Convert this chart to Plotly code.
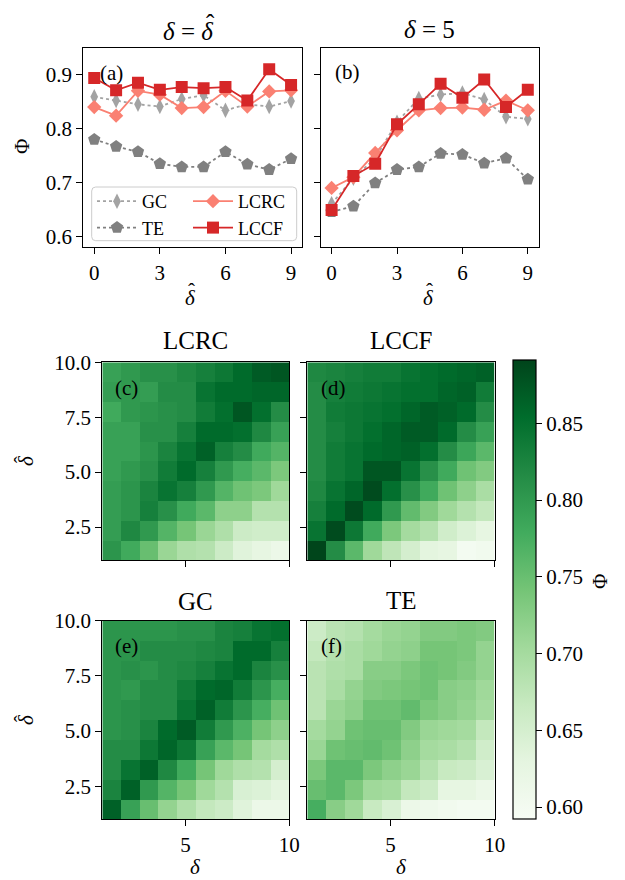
import plotly.graph_objects as go

W, H = 625, 880
FONT = "Liberation Serif"

# ---------------- data ----------------
delta_hat = [0, 1, 2, 3, 4, 5, 6, 7, 8, 9]

# panel (a): delta = delta_hat
a_GC = [0.859, 0.852, 0.845, 0.841, 0.855, 0.862, 0.834, 0.845, 0.841, 0.851]
a_TE = [0.780, 0.767, 0.757, 0.735, 0.729, 0.729, 0.757, 0.734, 0.724, 0.744]
a_LCRC = [0.840, 0.824, 0.870, 0.863, 0.838, 0.840, 0.870, 0.841, 0.869, 0.871]
a_LCCF = [0.894, 0.871, 0.885, 0.872, 0.877, 0.875, 0.877, 0.852, 0.910, 0.881]

# panel (b): delta = 5
b_GC = [0.661, 0.708, 0.745, 0.812, 0.856, 0.863, 0.866, 0.854, 0.822, 0.818]
b_TE = [0.646, 0.656, 0.699, 0.724, 0.729, 0.754, 0.752, 0.736, 0.745, 0.706]
b_LCRC = [0.690, 0.710, 0.755, 0.797, 0.834, 0.838, 0.839, 0.835, 0.852, 0.834]
b_LCCF = [0.649, 0.712, 0.735, 0.808, 0.845, 0.883, 0.857, 0.891, 0.840, 0.872]

# heatmaps, rows listed from bottom (low delta_hat) to top (high delta_hat)
hm_LCRC = [
    [0.805, 0.780, 0.750, 0.710, 0.690, 0.685, 0.660, 0.635, 0.625, 0.615],
    [0.795, 0.820, 0.800, 0.765, 0.740, 0.710, 0.690, 0.660, 0.655, 0.655],
    [0.795, 0.805, 0.830, 0.810, 0.780, 0.760, 0.720, 0.720, 0.685, 0.685],
    [0.795, 0.805, 0.825, 0.845, 0.830, 0.800, 0.765, 0.745, 0.735, 0.705],
    [0.790, 0.800, 0.810, 0.835, 0.855, 0.830, 0.800, 0.775, 0.760, 0.735],
    [0.790, 0.790, 0.805, 0.825, 0.845, 0.865, 0.830, 0.815, 0.780, 0.765],
    [0.790, 0.790, 0.810, 0.810, 0.830, 0.855, 0.855, 0.850, 0.820, 0.790],
    [0.780, 0.800, 0.805, 0.810, 0.815, 0.835, 0.850, 0.875, 0.850, 0.815],
    [0.795, 0.800, 0.795, 0.815, 0.815, 0.845, 0.855, 0.855, 0.860, 0.860],
    [0.790, 0.800, 0.810, 0.810, 0.820, 0.830, 0.840, 0.855, 0.870, 0.875],
]
hm_LCCF = [
    [0.890, 0.815, 0.760, 0.705, 0.675, 0.650, 0.630, 0.625, 0.600, 0.605],
    [0.845, 0.885, 0.840, 0.780, 0.735, 0.700, 0.685, 0.655, 0.640, 0.625],
    [0.830, 0.855, 0.885, 0.855, 0.800, 0.755, 0.730, 0.705, 0.685, 0.670],
    [0.820, 0.845, 0.860, 0.885, 0.850, 0.810, 0.780, 0.745, 0.720, 0.695],
    [0.815, 0.835, 0.845, 0.875, 0.875, 0.845, 0.810, 0.780, 0.745, 0.730],
    [0.815, 0.835, 0.845, 0.855, 0.860, 0.865, 0.850, 0.815, 0.785, 0.760],
    [0.815, 0.830, 0.840, 0.850, 0.860, 0.870, 0.870, 0.855, 0.815, 0.790],
    [0.815, 0.835, 0.840, 0.845, 0.850, 0.860, 0.870, 0.865, 0.855, 0.815],
    [0.815, 0.830, 0.835, 0.840, 0.845, 0.850, 0.850, 0.860, 0.865, 0.835],
    [0.820, 0.825, 0.830, 0.835, 0.835, 0.845, 0.850, 0.855, 0.860, 0.865],
]
hm_GC = [
    [0.865, 0.790, 0.750, 0.715, 0.690, 0.670, 0.660, 0.635, 0.615, 0.615],
    [0.825, 0.865, 0.800, 0.765, 0.740, 0.705, 0.685, 0.645, 0.640, 0.630],
    [0.815, 0.845, 0.865, 0.820, 0.780, 0.740, 0.705, 0.690, 0.685, 0.650],
    [0.815, 0.815, 0.840, 0.860, 0.840, 0.790, 0.760, 0.740, 0.700, 0.690],
    [0.805, 0.810, 0.825, 0.855, 0.870, 0.835, 0.800, 0.770, 0.740, 0.720],
    [0.805, 0.810, 0.815, 0.815, 0.845, 0.865, 0.835, 0.805, 0.775, 0.745],
    [0.805, 0.800, 0.815, 0.815, 0.835, 0.855, 0.860, 0.835, 0.805, 0.775],
    [0.805, 0.810, 0.805, 0.815, 0.820, 0.830, 0.845, 0.855, 0.825, 0.810],
    [0.805, 0.805, 0.815, 0.815, 0.815, 0.820, 0.825, 0.855, 0.855, 0.830],
    [0.805, 0.805, 0.805, 0.805, 0.810, 0.810, 0.825, 0.830, 0.845, 0.850],
]
hm_TE = [
    [0.775, 0.725, 0.705, 0.665, 0.645, 0.615, 0.610, 0.605, 0.600, 0.600],
    [0.750, 0.760, 0.735, 0.705, 0.700, 0.670, 0.660, 0.625, 0.625, 0.615],
    [0.735, 0.760, 0.760, 0.735, 0.720, 0.710, 0.685, 0.665, 0.660, 0.645],
    [0.710, 0.745, 0.750, 0.755, 0.745, 0.720, 0.700, 0.695, 0.685, 0.655],
    [0.700, 0.715, 0.745, 0.750, 0.750, 0.730, 0.710, 0.705, 0.700, 0.670],
    [0.680, 0.710, 0.720, 0.745, 0.745, 0.755, 0.735, 0.725, 0.715, 0.700],
    [0.680, 0.695, 0.715, 0.730, 0.735, 0.740, 0.745, 0.725, 0.720, 0.705],
    [0.680, 0.690, 0.695, 0.725, 0.725, 0.735, 0.745, 0.740, 0.730, 0.715],
    [0.670, 0.685, 0.695, 0.705, 0.715, 0.720, 0.740, 0.740, 0.735, 0.715],
    [0.660, 0.680, 0.685, 0.700, 0.710, 0.715, 0.730, 0.730, 0.735, 0.730],
]

line_ticks = [0, 3, 6, 9]
phi_ticks = [0.6, 0.7, 0.8, 0.9]
hm_xticks = [5, 10]
hm_yticks = [2.5, 5.0, 7.5, 10.0]
cb_ticks = [0.60, 0.65, 0.70, 0.75, 0.80, 0.85]

# ---------------- helpers ----------------
def px(x):
    return x / W

def py(y):
    return 1 - y / H

GREENS = [
    [0.0, "#f7fcf5"], [0.125, "#e5f5e0"], [0.25, "#c7e9c0"], [0.375, "#a1d99b"],
    [0.5, "#74c476"], [0.625, "#41ab5d"], [0.75, "#238b45"], [0.875, "#006d2c"],
    [1.0, "#00441b"],
]

C_GC, C_TE, C_LCRC, C_LCCF = "#a3a3a3", "#808080", "#fa8072", "#d62728"

fig = go.Figure()

series = [
    ("GC", C_GC, "dot", "diamond-tall", 11, "legend"),
    ("TE", C_TE, "dot", "pentagon", 13, "legend"),
    ("LCRC", C_LCRC, "solid", "diamond", 11, "legend2"),
    ("LCCF", C_LCCF, "solid", "square", 12, "legend2"),
]
a_vals = {"GC": a_GC, "TE": a_TE, "LCRC": a_LCRC, "LCCF": a_LCCF}
b_vals = {"GC": b_GC, "TE": b_TE, "LCRC": b_LCRC, "LCCF": b_LCCF}

for name, col, dash, sym, size, leg in series:
    fig.add_trace(go.Scatter(
        x=delta_hat, y=a_vals[name], mode="lines+markers", name=name,
        line=dict(color=col, width=1.8, dash=dash),
        marker=dict(symbol=sym, size=size, color=col),
        xaxis="x", yaxis="y", legend=leg, showlegend=True))
for name, col, dash, sym, size, leg in series:
    fig.add_trace(go.Scatter(
        x=delta_hat, y=b_vals[name], mode="lines+markers", name=name,
        line=dict(color=col, width=1.8, dash=dash),
        marker=dict(symbol=sym, size=size, color=col),
        xaxis="x2", yaxis="y2", showlegend=False))

for z, xa, ya in [(hm_LCRC, "x3", "y3"), (hm_LCCF, "x4", "y4"),
                  (hm_GC, "x5", "y5"), (hm_TE, "x6", "y6")]:
    fig.add_trace(go.Heatmap(z=z, x0=1.45, dx=0.9, y0=1.45, dy=0.9,
                             coloraxis="coloraxis", xaxis=xa, yaxis=ya,
                             hoverinfo="skip"))

tickfont = dict(family=FONT, size=21, color="black")

def axis_common(**kw):
    d = dict(showline=True, linecolor="black", linewidth=1.2, mirror=True,
             ticks="outside", ticklen=6, tickwidth=1.2, tickcolor="black",
             showgrid=False, zeroline=False, tickfont=tickfont, automargin=False)
    d.update(kw)
    return d

# line panels
dom_top = [py(247.3), py(47.7)]
fig.update_layout(
    xaxis=axis_common(domain=[px(83.3), px(302)], range=[-0.5, 9.5],
                      tickvals=line_ticks, anchor="y"),
    yaxis=axis_common(domain=dom_top, range=[0.58, 0.95], tickvals=phi_ticks,
                      tickformat=".1f", anchor="x"),
    xaxis2=axis_common(domain=[px(320.7), px(538.7)], range=[-0.5, 9.5],
                       tickvals=line_ticks, anchor="y2"),
    yaxis2=axis_common(domain=dom_top, range=[0.58, 0.95], tickvals=phi_ticks,
                       showticklabels=False, anchor="x2"),
)

hm_dom_x_left = [px(102.3), px(289.3)]
hm_dom_x_right = [px(307.3), px(494.7)]
hm_dom_y_top = [py(560), py(362.3)]
hm_dom_y_bot = [py(819.3), py(620.7)]

def hx(dom, anchor, labels):
    return axis_common(domain=dom, range=[1, 10], tickvals=hm_xticks,
                       showticklabels=labels, anchor=anchor)

def hy(dom, anchor, labels):
    return axis_common(domain=dom, range=[1, 10], tickvals=hm_yticks,
                       tickformat=".1f", showticklabels=labels, anchor=anchor)

fig.update_layout(
    xaxis3=hx(hm_dom_x_left, "y3", False), yaxis3=hy(hm_dom_y_top, "x3", True),
    xaxis4=hx(hm_dom_x_right, "y4", False), yaxis4=hy(hm_dom_y_top, "x4", False),
    xaxis5=hx(hm_dom_x_left, "y5", True), yaxis5=hy(hm_dom_y_bot, "x5", True),
    xaxis6=hx(hm_dom_x_right, "y6", True), yaxis6=hy(hm_dom_y_bot, "x6", False),
)

fig.update_layout(
    coloraxis=dict(
        colorscale=GREENS, cmin=0.592, cmax=0.891,
        colorbar=dict(
            x=px(513.3), xanchor="left", y=py(819.3), yanchor="bottom",
            len=(819.3 - 360) / H, lenmode="fraction", thickness=23.4,
            thicknessmode="pixels", xpad=0, ypad=0, outlinecolor="black",
            outlinewidth=1.2, ticks="outside", ticklen=6, tickwidth=1.2,
            tickcolor="black", tickvals=cb_ticks, tickformat=".2f",
            tickfont=tickfont,
        ),
    )
)

# annotations
ann = []

def text(x, y, s, size=21, angle=0):
    ann.append(dict(x=px(x), y=py(y), xref="paper", yref="paper", text=s,
                    showarrow=False, xanchor="center", yanchor="middle",
                    textangle=angle, font=dict(family=FONT, size=size, color="black")))

D = "<i>\u03b4</i>"
HAT = "\u02c6"

def delta_hat_h(x, y, size=21):
    # horizontal delta with a hat above it
    text(x, y, D, size)
    text(x + 1.5, y - 12.5 + 0.275 * size, HAT, size)

def delta_hat_v(x, y, size=21):
    # rotated (reading upwards) delta with a hat to its left
    text(x, y, D, size, -90)
    text(x - 10 + 0.275 * size, y - 1.5, HAT, size, -90)

# titles
text(188, 31, D + " = " + D, 25)
text(210, 16.5 + 0.275 * 25, HAT, 25)
text(429, 29, D + " = 5", 25)
text(195.7, 341, "LCRC", 25)
text(401.7, 341, "LCCF", 25)
text(195.7, 601, "GC", 25)
text(401.7, 600, "TE", 25)
# panel labels
text(111, 73, "(a)")
text(347.5, 72, "(b)")
text(126, 388, "(c)")
text(333, 388, "(d)")
text(126, 646, "(e)")
text(331, 646, "(f)")
# axis labels
text(22, 147, "\u03a6", 21, -90)
delta_hat_h(190, 297.5)
delta_hat_h(428, 297.5)
delta_hat_v(26, 461)
delta_hat_v(26, 720)
text(195.7, 867, D, 21)
text(401.7, 867, D, 21)
text(600, 582, "\u03a6", 21, -90)

# legend frame (rounded)
lx0, lx1, ly0, ly1, r = 91.7, 296.7, 187, 240.7, 4
path = (f"M {px(lx0 + r)},{py(ly0)} L {px(lx1 - r)},{py(ly0)} "
        f"Q {px(lx1)},{py(ly0)} {px(lx1)},{py(ly0 + r)} "
        f"L {px(lx1)},{py(ly1 - r)} Q {px(lx1)},{py(ly1)} {px(lx1 - r)},{py(ly1)} "
        f"L {px(lx0 + r)},{py(ly1)} Q {px(lx0)},{py(ly1)} {px(lx0)},{py(ly1 - r)} "
        f"L {px(lx0)},{py(ly0 + r)} Q {px(lx0)},{py(ly0)} {px(lx0 + r)},{py(ly0)} Z")

legfont = dict(family=FONT, size=18, color="black")
fig.update_layout(
    width=W, height=H, margin=dict(l=0, r=0, t=0, b=0, autoexpand=False),
    paper_bgcolor="white", plot_bgcolor="white",
    font=dict(family=FONT, size=21, color="black"),
    annotations=ann,
    shapes=[dict(type="path", path=path, xref="paper", yref="paper",
                 fillcolor="rgba(255,255,255,0.8)",
                 line=dict(color="#cccccc", width=1), layer="above")],
    legend=dict(x=px(92), y=py(183), xanchor="left", yanchor="top",
                bgcolor="rgba(0,0,0,0)", font=legfont, itemwidth=40,
                tracegroupgap=0),
    legend2=dict(x=px(188), y=py(183), xanchor="left", yanchor="top",
                 bgcolor="rgba(0,0,0,0)", font=legfont, itemwidth=40,
                 tracegroupgap=0),
    showlegend=True,
)

fig.write_html("out.html")
